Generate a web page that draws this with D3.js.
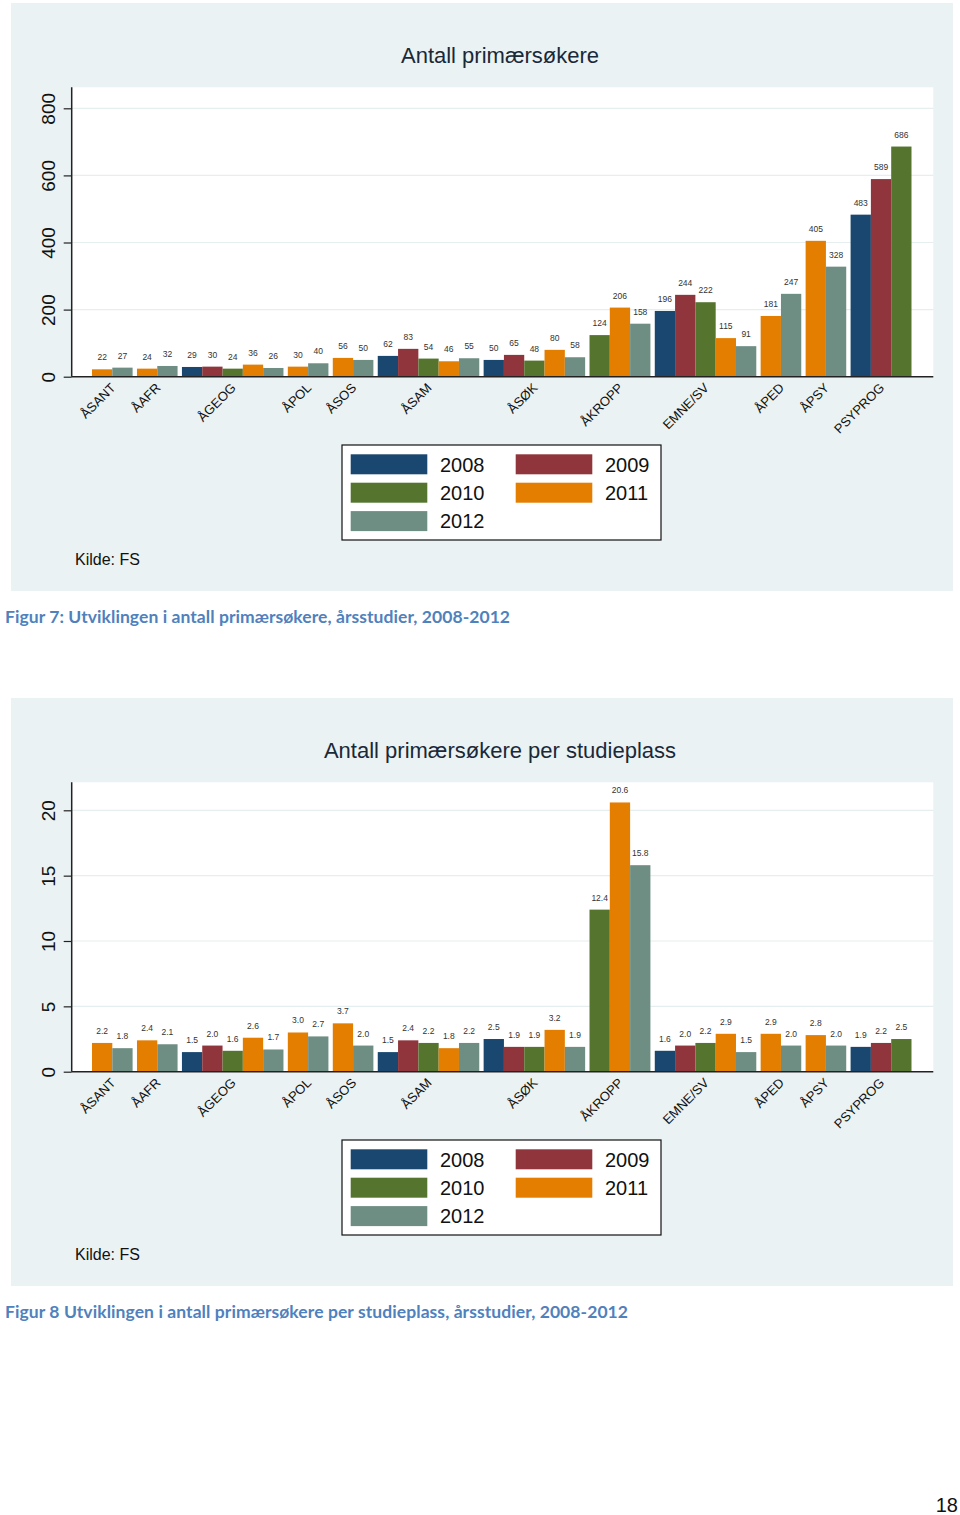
<!DOCTYPE html>
<html>
<head>
<meta charset="utf-8">
<script src="https://cdn.jsdelivr.net/npm/d3@7"></script>
<style>
  html, body { margin: 0; padding: 0; background: #ffffff; }
  svg { display: block; }
</style>
</head>
<body>
<svg id="page" width="960" height="1515"></svg>
<script>
// ---------- DATA ----------
const categories = ["ÅSANT","ÅAFR","ÅGEOG","ÅPOL","ÅSOS","ÅSAM","ÅSØK","ÅKROPP","EMNE/SV","ÅPED","ÅPSY","PSYPROG"];
const years = ["2008","2009","2010","2011","2012"];
// which years have a bar in each category
const barYears = [
  ["2011","2012"],
  ["2011","2012"],
  ["2008","2009","2010","2011","2012"],
  ["2011","2012"],
  ["2011","2012"],
  ["2008","2009","2010","2011","2012"],
  ["2008","2009","2010","2011","2012"],
  ["2010","2011","2012"],
  ["2008","2009","2010","2011","2012"],
  ["2011","2012"],
  ["2011","2012"],
  ["2008","2009","2010"]
];
const applicants = [
  [22,27],[24,32],[29,30,24,36,26],[30,40],[56,50],
  [62,83,54,46,55],[50,65,48,80,58],[124,206,158],
  [196,244,222,115,91],[181,247],[405,328],[483,589,686]
];
const perPlace = [
  [2.2,1.8],[2.4,2.1],[1.5,2.0,1.6,2.6,1.7],[3.0,2.7],[3.7,2.0],
  [1.5,2.4,2.2,1.8,2.2],[2.5,1.9,1.9,3.2,1.9],[12.4,20.6,15.8],
  [1.6,2.0,2.2,2.9,1.5],[2.9,2.0],[2.8,2.0],[1.9,2.2,2.5]
];
const ticks1 = [0,200,400,600,800];
const ticks2 = [0,5,10,15,20];
const yearColors = ["#1a476f","#90353b","#55752f","#e37e00","#6e8e84"];

// ---------- DRAW ----------
const svg = d3.select("#page");
const color = d3.scaleOrdinal().domain(years).range(yearColors);
const FONT = "'Liberation Sans', Arial, Helvetica, sans-serif";

function drawChart(opts) {
  const oy = opts.offsetY;
  const g = svg.append("g").attr("transform", `translate(0,${oy})`);
  // outer background
  g.append("rect").attr("x", 11).attr("y", 3).attr("width", 942).attr("height", 588).attr("fill", "#eaf2f3");
  // plot region
  const left = 71.7, right = 933.3, top = 87.3, bottom = 376.7;
  g.append("rect").attr("x", left).attr("y", top).attr("width", right - left).attr("height", bottom - top).attr("fill", "#ffffff");

  // title
  g.append("text").attr("x", 500).attr("y", 63).attr("text-anchor", "middle")
    .attr("font-family", FONT).attr("font-size", 22).attr("fill", "#1a2838").text(opts.title);

  // layout bars in units
  const gapU = 0.215, outerU = 1;
  const bars = [];
  const groups = [];
  let pos = outerU;
  categories.forEach((c, i) => {
    const start = pos;
    barYears[i].forEach((yr, j) => {
      bars.push({cat: c, year: yr, value: opts.values[i][j], u: pos});
      pos += 1;
    });
    groups.push({cat: c, center: (start + pos) / 2});
    pos += gapU;
  });
  const totalU = pos - gapU + outerU;
  const x = d3.scaleLinear().domain([0, totalU]).range([left, right - 1.5]);
  const y = d3.scaleLinear().domain(opts.yDomain).range([bottom, opts.yTopPx]);

  // gridlines
  g.append("g").selectAll("line").data(opts.ticks.filter(t => t > 0)).join("line")
    .attr("x1", left).attr("x2", right).attr("y1", d => y(d)).attr("y2", d => y(d))
    .attr("stroke", "#e6eef0").attr("stroke-width", 1.2);

  // bars
  g.append("g").selectAll("rect").data(bars).join("rect")
    .attr("x", d => x(d.u)).attr("width", d => x(d.u + 1) - x(d.u))
    .attr("y", d => y(d.value)).attr("height", d => y(0) - y(d.value))
    .attr("fill", d => color(d.year));

  // value labels
  g.append("g").selectAll("text").data(bars).join("text")
    .attr("x", d => x(d.u + 0.5)).attr("y", d => y(d.value) - 9)
    .attr("text-anchor", "middle").attr("font-family", FONT).attr("font-size", 8.5)
    .attr("fill", "#333333").text(d => opts.fmt(d.value));

  // y axis
  const yAxis = d3.axisLeft(y).tickValues(opts.ticks).tickSize(8).tickFormat(d3.format("d"));
  const ya = g.append("g").attr("transform", `translate(${left},0)`).call(yAxis);
  ya.select(".domain").attr("stroke", "#222").attr("stroke-width", 1.5)
    .attr("d", `M0,${bottom}V${top}`);
  ya.selectAll(".tick line").attr("stroke", "#222").attr("stroke-width", 1.2);
  ya.selectAll(".tick text").remove();
  ya.selectAll(".tick").append("text")
    .attr("transform", "translate(-17,0) rotate(-90)")
    .attr("text-anchor", "middle").attr("fill", "#111")
    .attr("font-family", FONT).attr("font-size", 19).text(d => d);

  // x axis line
  g.append("line").attr("x1", left).attr("x2", right).attr("y1", bottom).attr("y2", bottom)
    .attr("stroke", "#222").attr("stroke-width", 1.5);

  // category labels
  g.append("g").selectAll("text").data(groups).join("text")
    .attr("transform", d => `translate(${x(d.center) + 4},${bottom + 12}) rotate(-45)`)
    .attr("text-anchor", "end").attr("font-family", FONT).attr("font-size", 13)
    .attr("fill", "#111").text(d => d.cat);

  // legend
  const lg = g.append("g");
  lg.append("rect").attr("x", 342).attr("y", 445).attr("width", 319).attr("height", 95)
    .attr("fill", "#ffffff").attr("stroke", "#111").attr("stroke-width", 1.2);
  const legendPos = years.map((yr, i) => ({yr, col: i % 2, row: Math.floor(i / 2)}));
  lg.selectAll("rect.sw").data(legendPos).join("rect").attr("class", "sw")
    .attr("x", d => d.col === 0 ? 350.7 : 515.7).attr("y", d => 454.3 + d.row * 28.4)
    .attr("width", 76.6).attr("height", 20).attr("fill", d => color(d.yr));
  lg.selectAll("text").data(legendPos).join("text")
    .attr("x", d => d.col === 0 ? 440 : 605).attr("y", d => 471.5 + d.row * 28.4)
    .attr("font-family", FONT).attr("font-size", 20).attr("fill", "#111").text(d => d.yr);

  // source
  g.append("text").attr("x", 75).attr("y", 565).attr("font-family", FONT).attr("font-size", 16)
    .attr("fill", "#111").text("Kilde: FS");

  // caption
  g.append("text").attr("x", 5).attr("y", 623).attr("font-family", "Lato, 'Open Sans', sans-serif")
    .attr("font-weight", "bold").attr("font-size", 17.5).attr("fill", "#4f81bd")
    .attr("textLength", opts.captionWidth).attr("lengthAdjust", "spacing")
    .text(opts.caption);
}

drawChart({
  offsetY: 0,
  title: "Antall primærsøkere",
  values: applicants,
  ticks: ticks1,
  yDomain: [0, 800],
  yTopPx: 108.3,
  fmt: d3.format("d"),
  caption: "Figur 7: Utviklingen i antall primærsøkere, årsstudier, 2008-2012",
  captionWidth: 505
});

drawChart({
  offsetY: 695,
  title: "Antall primærsøkere per studieplass",
  values: perPlace,
  ticks: ticks2,
  yDomain: [0, 20],
  yTopPx: 115.3,
  fmt: d3.format(".1f"),
  caption: "Figur 8 Utviklingen i antall primærsøkere per studieplass, årsstudier, 2008-2012",
  captionWidth: 623
});

// page number
svg.append("text").attr("x", 958).attr("y", 1512).attr("text-anchor", "end")
  .attr("font-family", FONT).attr("font-size", 20).attr("fill", "#111").text("18");
</script>
</body>
</html>
